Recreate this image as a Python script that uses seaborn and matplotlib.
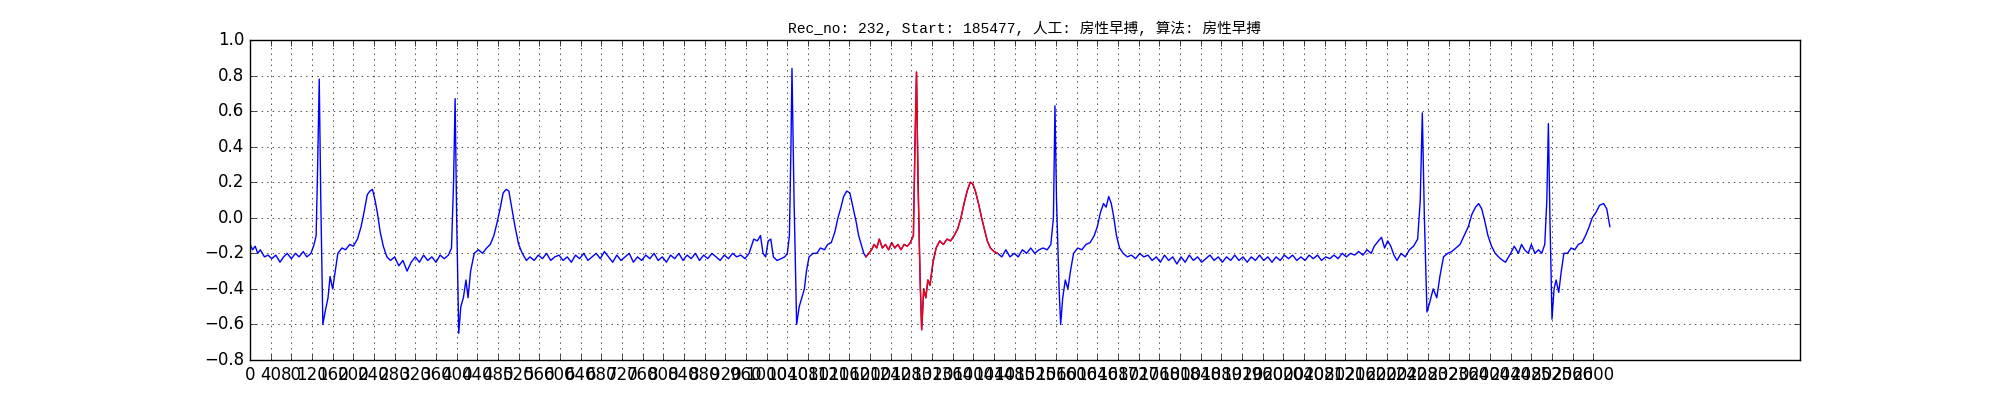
import numpy as np
import pandas as pd
import matplotlib
matplotlib.use("Agg")
import matplotlib.pyplot as plt
import seaborn as sns

# ECG trace, kept per stretch (sample index, amplitude)
x_lead = [0, 5, 10, 15, 20, 28, 35, 42, 50, 58, 65, 72, 80, 88, 95, 103, 110, 118, 124, 128]
y_lead = [-0.15, -0.18, -0.16, -0.2, -0.18, -0.22, -0.21, -0.23, -0.21, -0.25, -0.22, -0.2, -0.23, -0.2, -0.22, -0.19, -0.22, -0.2, -0.15, -0.1]

x_beat1 = [131, 134, 137, 141, 146, 151, 155, 160, 165, 170, 178, 185, 193, 200, 208, 215, 220, 227, 232, 237, 242, 247, 252, 258, 265, 272, 280,
           288, 296, 304, 312, 320, 328, 336, 344, 352, 360, 368, 376, 384, 390]
y_beat1 = [0.3, 0.78, 0.1, -0.6, -0.52, -0.45, -0.33, -0.4, -0.3, -0.2, -0.17, -0.18, -0.15, -0.16, -0.12, -0.05, 0.02, 0.13, 0.15, 0.16, 0.1, 0.02, -0.08, -0.16, -0.22, -0.24, -0.22,
           -0.27, -0.24, -0.3, -0.25, -0.22, -0.25, -0.21, -0.24, -0.22, -0.25, -0.21, -0.23, -0.21, -0.17]

x_beat2 = [394, 397, 400, 404, 408, 413, 418, 422, 427, 434, 442, 450, 458, 465, 472, 478, 484, 490, 496, 501, 507, 513, 520, 527, 535]
y_beat2 = [0.2, 0.67, 0.0, -0.65, -0.5, -0.45, -0.35, -0.45, -0.3, -0.2, -0.18, -0.2, -0.17, -0.15, -0.1, -0.03, 0.05, 0.14, 0.16, 0.15, 0.05, -0.05, -0.15, -0.2, -0.24]

x_flat1 = [542, 550, 558, 566, 574, 582, 590, 598, 606, 614, 622, 630, 638, 646, 654, 662, 670, 678, 686, 694,
           702, 710, 718, 726, 734, 742, 750, 758, 766, 774, 782, 790, 798, 806, 814, 822, 830, 838, 846, 854,
           862, 870, 878, 886, 894, 902, 910, 918, 926, 934, 942, 950, 958, 966]
y_flat1 = [-0.22, -0.24, -0.21, -0.23, -0.2, -0.24, -0.22, -0.21, -0.24, -0.22, -0.25, -0.21, -0.23, -0.2, -0.24, -0.22, -0.2, -0.23, -0.19, -0.22,
           -0.25, -0.21, -0.24, -0.22, -0.2, -0.25, -0.22, -0.24, -0.21, -0.23, -0.2, -0.24, -0.22, -0.25, -0.21, -0.23, -0.2, -0.24, -0.21, -0.23,
           -0.2, -0.24, -0.21, -0.23, -0.2, -0.22, -0.24, -0.21, -0.23, -0.2, -0.22, -0.21, -0.23, -0.2]

x_beat3 = [975, 982, 988, 993, 998, 1003, 1008, 1013, 1020, 1028, 1035, 1040, 1044, 1047, 1049, 1053, 1058, 1063, 1068, 1073,
           1077, 1082, 1090, 1097, 1104, 1112, 1118, 1125, 1132, 1138, 1143, 1149, 1155, 1161, 1167, 1173, 1178, 1183, 1188]
y_beat3 = [-0.12, -0.13, -0.1, -0.2, -0.22, -0.13, -0.12, -0.22, -0.24, -0.23, -0.22, -0.2, -0.1, 0.4, 0.84, 0.1, -0.6, -0.5, -0.45, -0.4,
           -0.3, -0.22, -0.2, -0.2, -0.17, -0.18, -0.15, -0.14, -0.08, 0.0, 0.05, 0.12, 0.15, 0.14, 0.06, -0.02, -0.1, -0.15, -0.2]

# premature atrial beat (drawn in red)
x_pac = [1192, 1198, 1203, 1208, 1213, 1218, 1224, 1230, 1236, 1242, 1248, 1254, 1260, 1266, 1272, 1278, 1284, 1287, 1290, 1293,
         1297, 1300, 1304, 1308, 1312, 1316, 1322, 1328, 1335, 1342, 1349, 1356, 1363, 1370, 1376, 1382, 1388, 1394, 1399, 1404,
         1410, 1416, 1421, 1427, 1433, 1440, 1447]
y_pac = [-0.22, -0.2, -0.18, -0.15, -0.17, -0.12, -0.17, -0.15, -0.18, -0.14, -0.17, -0.15, -0.18, -0.15, -0.16, -0.14, -0.1, 0.4, 0.82, 0.2,
         -0.35, -0.63, -0.4, -0.45, -0.35, -0.38, -0.25, -0.17, -0.13, -0.15, -0.12, -0.13, -0.1, -0.06, 0.0, 0.08, 0.15, 0.2, 0.19, 0.15,
         0.08, 0.0, -0.06, -0.13, -0.17, -0.19, -0.2]

x_beat5 = [1455, 1463, 1471, 1479, 1487, 1495, 1503, 1511, 1519, 1527, 1535, 1543, 1550, 1555, 1558, 1561, 1566, 1569, 1573, 1578,
           1583, 1588, 1594, 1602, 1610, 1618, 1626, 1634, 1640, 1646, 1652, 1657, 1662, 1667, 1672, 1677, 1683, 1690]
y_beat5 = [-0.22, -0.18, -0.22, -0.2, -0.22, -0.18, -0.2, -0.17, -0.2, -0.18, -0.17, -0.18, -0.15, 0.0, 0.63, 0.1, -0.4, -0.6, -0.45, -0.35,
           -0.4, -0.3, -0.2, -0.17, -0.18, -0.15, -0.14, -0.1, -0.05, 0.03, 0.08, 0.06, 0.12, 0.08, 0.0, -0.1, -0.17, -0.2]

x_flat2 = [1698, 1706, 1714, 1722, 1730, 1738, 1746, 1754, 1762, 1770, 1778, 1786, 1794, 1802, 1810, 1818, 1826, 1834, 1842, 1850,
           1858, 1866, 1874, 1882, 1890, 1898, 1906, 1914, 1922, 1930, 1938, 1946, 1954, 1962, 1970, 1978, 1986, 1994, 2002, 2010,
           2018, 2026, 2034, 2042, 2050, 2058, 2066, 2074, 2082, 2090, 2098, 2106, 2114, 2122, 2130, 2138, 2146, 2154, 2162, 2170, 2176]
y_flat2 = [-0.22, -0.21, -0.23, -0.2, -0.22, -0.21, -0.24, -0.22, -0.25, -0.21, -0.24, -0.22, -0.26, -0.22, -0.25, -0.21, -0.24, -0.22, -0.25, -0.23,
           -0.21, -0.24, -0.22, -0.25, -0.22, -0.24, -0.21, -0.24, -0.22, -0.25, -0.22, -0.24, -0.21, -0.24, -0.22, -0.25, -0.22, -0.24, -0.21, -0.23,
           -0.21, -0.24, -0.22, -0.24, -0.21, -0.23, -0.21, -0.24, -0.22, -0.23, -0.21, -0.23, -0.2, -0.22, -0.2, -0.21, -0.19, -0.21, -0.18, -0.2, -0.16]

x_beat6 = [2184, 2190, 2196, 2202, 2208, 2214, 2220, 2228, 2236, 2244, 2252, 2260, 2265, 2269, 2273, 2278, 2283, 2290, 2297, 2303,
           2310, 2318, 2326, 2334, 2342, 2350, 2358, 2365, 2372, 2378, 2384, 2390, 2396, 2403, 2410, 2420, 2430, 2440]
y_beat6 = [-0.13, -0.11, -0.17, -0.13, -0.16, -0.21, -0.24, -0.2, -0.22, -0.18, -0.16, -0.12, 0.1, 0.59, 0.0, -0.53, -0.48, -0.4, -0.45, -0.33,
           -0.22, -0.2, -0.19, -0.17, -0.15, -0.1, -0.05, 0.02, 0.06, 0.08, 0.05, -0.02, -0.1, -0.16, -0.2, -0.23, -0.25, -0.2]

x_beat7 = [2447, 2455, 2461, 2467, 2474, 2480, 2487, 2494, 2500, 2506, 2510, 2513, 2516, 2520, 2524, 2528, 2533, 2538, 2543, 2550,
           2557, 2564, 2571, 2578, 2585, 2592, 2598, 2605, 2612, 2620, 2626, 2632]
y_beat7 = [-0.16, -0.2, -0.15, -0.18, -0.2, -0.15, -0.2, -0.18, -0.2, -0.15, 0.1, 0.53, 0.0, -0.57, -0.4, -0.35, -0.42, -0.3, -0.2, -0.2,
           -0.17, -0.18, -0.15, -0.14, -0.1, -0.05, 0.0, 0.03, 0.07, 0.08, 0.05, -0.05]

tick_step = 40
tick_stop = 2640
title = "Rec_no: 232, Start: 185477, 人工: 房性早搏, 算法: 房性早搏"


def main():
    xs = x_lead + x_beat1 + x_beat2 + x_flat1 + x_beat3 + x_pac + x_beat5 + x_flat2 + x_beat6 + x_beat7
    ys = y_lead + y_beat1 + y_beat2 + y_flat1 + y_beat3 + y_pac + y_beat5 + y_flat2 + y_beat6 + y_beat7
    assert len(xs) == len(ys)
    ecg = pd.DataFrame({"sample": xs, "amp": ys})
    pac = pd.DataFrame({"sample": x_pac, "amp": y_pac})

    plt.style.use("classic")
    fig, ax = plt.subplots(figsize=(20, 4), dpi=100)
    fig.patch.set_facecolor("white")
    fig.subplots_adjust(left=0.125, right=0.9, bottom=0.1, top=0.9)

    sns.lineplot(data=ecg, x="sample", y="amp", color="b", linewidth=1.0,
                 estimator=None, sort=False, ax=ax)
    sns.lineplot(data=pac, x="sample", y="amp", color="r", linewidth=1.0,
                 estimator=None, sort=False, ax=ax)

    ax.set_xlim(0, 3000)
    ax.set_ylim(-0.8, 1.0)
    ax.set_xticks(list(range(0, tick_stop, tick_step)))
    ax.set_yticks([-0.8, -0.6, -0.4, -0.2, 0.0, 0.2, 0.4, 0.6, 0.8, 1.0])
    ax.set_xlabel("")
    ax.set_ylabel("")
    ax.grid(True, linestyle=":", color="k", linewidth=0.5)
    ax.set_title(title, fontsize=10.5, family=["Liberation Mono", "Noto Sans CJK SC"])

    fig.savefig("out.png", dpi=100, facecolor="white")


if __name__ == "__main__":
    main()
